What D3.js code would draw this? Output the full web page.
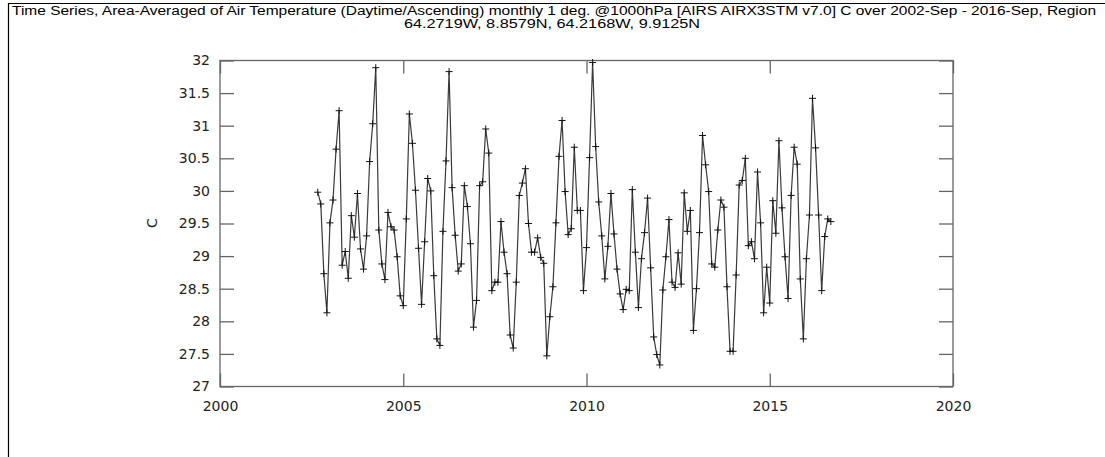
<!DOCTYPE html>
<html>
<head>
<meta charset="utf-8">
<script src="https://cdn.jsdelivr.net/npm/d3@7"></script>
<style>
  html, body { margin: 0; padding: 0; background: #fff; }
  svg { display: block; }
</style>
</head>
<body>
<svg id="chart" width="1105" height="457"></svg>
<script>
const titleLine1 = "Time Series, Area-Averaged of Air Temperature (Daytime/Ascending) monthly 1 deg. @1000hPa [AIRS AIRX3STM v7.0] C over 2002-Sep - 2016-Sep, Region";
const titleLine2 = "64.2719W, 8.8579N, 64.2168W, 9.9125N";
const yLabel = "C";
const xTickValues = [2000, 2005, 2010, 2015, 2020];
const yTickValues = [27, 27.5, 28, 28.5, 29, 29.5, 30, 30.5, 31, 31.5, 32];
const startYear = 2002;
const startMonth = 9; // September
const values = [
  29.98, 29.80, 28.73, 28.13, 29.51, 29.86, 30.64, 31.23, 28.86, 29.07, 28.66, 29.62,
  29.29, 29.96, 29.11, 28.80, 29.31, 30.45, 31.03, 31.89, 29.40, 28.88, 28.64, 29.67,
  29.45, 29.40, 28.99, 28.39, 28.24, 29.57, 31.18, 30.73, 30.01, 29.12, 28.26, 29.22,
  30.19, 30.00, 28.70, 27.73, 27.63, 29.38, 30.46, 31.83, 30.05, 29.32, 28.77, 28.88,
  30.08, 29.76, 29.19, 27.91, 28.32, 30.08, 30.14, 30.95, 30.58, 28.47, 28.60, 28.60,
  29.53, 29.06, 28.73, 27.79, 27.59, 28.60, 29.93, 30.12, 30.34, 29.50, 29.06, 29.06,
  29.28, 28.98, 28.89, 27.47, 28.07, 28.53, 29.51, 30.53, 31.08, 29.99, 29.33, 29.42,
  30.67, 29.70, 29.70, 28.47, 29.13, 30.51, 31.97, 30.68, 29.83, 29.31, 28.65, 29.15,
  29.96, 29.34, 28.80, 28.42, 28.18, 28.49, 28.47, 30.02, 29.06, 28.21, 28.96, 29.36,
  29.89, 28.82, 27.76, 27.49, 27.33, 28.48, 28.99, 29.56, 28.60, 28.52, 29.05, 28.57,
  29.97, 29.38, 29.70, 27.86, 28.50, 29.36, 30.85, 30.40, 29.99, 28.88, 28.83, 29.40,
  29.86, 29.75, 28.53, 27.54, 27.54, 28.71, 30.09, 30.16, 30.50, 29.16, 29.22, 28.96,
  30.29, 29.51, 28.13, 28.83, 28.28, 29.85, 29.35, 30.77, 29.74, 28.99, 28.35, 29.93,
  30.67, 30.41, 28.65, 27.73, 28.96, 29.63, 31.42, 30.66, 29.63, 28.47, 29.30, 29.57,
  29.53
];

const data = values.map((v, i) => ({ t: startYear + (startMonth - 1 + i) / 12, v }));

const svg = d3.select("#chart");
const plotLeft = 220, plotRight = 953, plotTop = 60.5, plotBottom = 386.5;
const x = d3.scaleLinear().domain([2000, 2020]).range([plotLeft, plotRight]);
const y = d3.scaleLinear().domain([27, 32]).range([plotBottom, plotTop]);
const frameColor = "#666";
const fontFam = "DejaVu Sans, sans-serif";

// outer border fragments
svg.append("line").attr("x1", 8.5).attr("x2", 8.5).attr("y1", 3).attr("y2", 457)
  .attr("stroke", "#000").attr("stroke-width", 1.2);
svg.append("line").attr("x1", 8).attr("x2", 1105).attr("y1", 3.5).attr("y2", 3.5)
  .attr("stroke", "#000").attr("stroke-width", 1.2);

// title
svg.append("text").attr("x", 554).attr("y", 14.5).attr("text-anchor", "middle")
  .attr("font-family", "Liberation Sans, Arial, sans-serif").attr("font-size", 12)
  .attr("textLength", 1084).attr("lengthAdjust", "spacingAndGlyphs")
  .attr("fill", "#000").text(titleLine1);
svg.append("text").attr("x", 552).attr("y", 27.5).attr("text-anchor", "middle")
  .attr("font-family", "Liberation Sans, Arial, sans-serif").attr("font-size", 12)
  .attr("textLength", 296).attr("lengthAdjust", "spacingAndGlyphs")
  .attr("fill", "#000").text(titleLine2);

function styleAxis(g) {
  g.select(".domain").remove();
  g.selectAll(".tick line").attr("stroke", frameColor).attr("stroke-width", 1.3);
  g.selectAll(".tick text").attr("fill", "#222").attr("font-family", fontFam).attr("font-size", 14);
}

// axes
svg.append("g").attr("transform", `translate(${plotLeft},0)`)
  .call(d3.axisLeft(y).tickValues(yTickValues).tickSize(-14).tickPadding(10).tickFormat(d3.format("")))
  .call(styleAxis);
svg.append("g").attr("transform", `translate(${plotRight},0)`)
  .call(d3.axisRight(y).tickValues(yTickValues).tickSize(-14).tickFormat(""))
  .call(styleAxis);
svg.append("g").attr("transform", `translate(0,${plotBottom})`)
  .call(d3.axisBottom(x).tickValues(xTickValues).tickSize(-13).tickPadding(15).tickFormat(d3.format("d")))
  .call(styleAxis);
svg.append("g").attr("transform", `translate(0,${plotTop})`)
  .call(d3.axisTop(x).tickValues(xTickValues).tickSize(-13).tickFormat(""))
  .call(styleAxis);

// frame
svg.append("rect").attr("x", plotLeft).attr("y", plotTop)
  .attr("width", plotRight - plotLeft).attr("height", plotBottom - plotTop)
  .attr("fill", "none").attr("stroke", frameColor).attr("stroke-width", 1.3);

// y label
svg.append("text").attr("transform", "translate(157,223) rotate(-90)")
  .attr("text-anchor", "middle").attr("font-family", fontFam).attr("font-size", 14)
  .attr("fill", "#222").text(yLabel);

// line
svg.append("path").datum(data)
  .attr("fill", "none").attr("stroke", "#3a3a3a").attr("stroke-width", 1.2)
  .attr("d", d3.line().x(d => x(d.t)).y(d => y(d.v)));

// plus markers
svg.append("g").selectAll("path.pt").data(data).join("path")
  .attr("class", "pt")
  .attr("transform", d => `translate(${x(d.t)},${y(d.v)})`)
  .attr("d", "M-3.5,0H3.5M0,-3.5V3.5")
  .attr("stroke", "#111").attr("stroke-width", 1);
</script>
</body>
</html>
